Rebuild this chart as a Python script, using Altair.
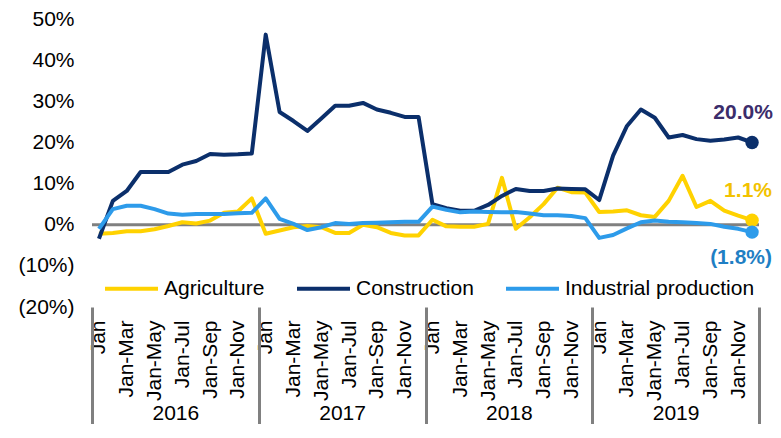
import altair as alt
import pandas as pd

years = [2016, 2017, 2018, 2019]
month_labels = ["Jan", "", "Jan-Mar", "", "Jan-May", "", "Jan-Jul", "", "Jan-Sep", "", "Jan-Nov", ""]
series_names = ["Agriculture", "Construction", "Industrial production"]

agriculture = [-2.2, -2.0, -1.6, -1.6, -1.1, -0.3, 0.6, 0.3, 1.0, 2.9, 3.2, 6.4,
               -2.2, -1.4, -0.6, -0.3, -0.6, -2.0, -2.0, 0.0, -0.6, -2.0, -2.6, -2.6,
               1.2, -0.4, -0.5, -0.5, 0.2, 11.4, -1.0, 1.8, 5.0, 9.0, 7.9, 7.8,
               3.1, 3.2, 3.5, 2.3, 1.9, 5.8, 11.9, 4.3, 5.8, 3.4, 2.2, 1.1]
construction = [-3.4, 5.8, 8.2, 12.8, 12.8, 12.8, 14.6, 15.5, 17.2, 17.0, 17.1, 17.3,
                46.2, 27.4, 25.2, 22.8, 25.8, 28.9, 28.9, 29.6, 28.0, 27.2, 26.2, 26.2,
                5.0, 4.0, 3.4, 3.4, 4.8, 7.0, 8.7, 8.2, 8.2, 8.8, 8.7, 8.6,
                6.0, 16.8, 24.0, 28.0, 26.0, 21.2, 21.8, 20.8, 20.4, 20.7, 21.2, 20.0]
industrial = [-1.0, 3.8, 4.6, 4.6, 3.8, 2.7, 2.4, 2.6, 2.6, 2.6, 2.8, 2.9,
              6.4, 1.4, 0.2, -1.3, -0.6, 0.4, 0.2, 0.4, 0.5, 0.6, 0.7, 0.7,
              4.4, 3.6, 3.0, 3.2, 3.1, 3.0, 3.1, 2.7, 2.3, 2.3, 2.1, 1.6,
              -3.2, -2.5, -0.9, 0.6, 1.0, 0.7, 0.6, 0.4, 0.2, -0.5, -1.0, -1.8]
y_ticks = [-20, -10, 0, 10, 20, 30, 40, 50]

line_colors = ["#FFD200", "#0B2F6B", "#2D9BEA"]
# (series, label colour, dy, dx)
label_styles = [("Construction", "#3B2D6B", -29, -9),
                ("Agriculture", "#F2C200", -29, -4),
                ("Industrial production", "#1F7FC4", 26, -11)]

FONT = "Liberation Sans"

rows = []
for name, vals in zip(series_names, [agriculture, construction, industrial]):
    for i, v in enumerate(vals):
        rows.append({"i": i, "series": name, "value": v})
df = pd.DataFrame(rows)
n = len(years) * 12

axis_labels = [m for _ in years for m in month_labels]
label_expr = "[" + ",".join("'%s'" % s for s in axis_labels) + "][datum.value]"

x_month = alt.X(
    "i:O",
    scale=alt.Scale(type="point", padding=0.5),
    axis=alt.Axis(orient="bottom", title=None, labelExpr=label_expr, labelAngle=270,
                  labelOverlap=False, ticks=False, domain=False, labelPadding=13,
                  labelFont=FONT, labelFontSize=21, labelColor="#000000"),
)
y_enc = alt.Y(
    "value:Q",
    scale=alt.Scale(domain=[-20, 50], nice=False, zero=False),
    axis=alt.Axis(values=y_ticks, title=None, grid=False, domain=False, ticks=False,
                  labelPadding=18, labelFont=FONT, labelFontSize=21, labelColor="#000000",
                  labelExpr="datum.value < 0 ? '(' + (-datum.value) + '%)' : datum.value + '%'"),
)
color_scale = alt.Scale(domain=series_names, range=line_colors)

zero = alt.Chart(pd.DataFrame({"value": [0]})).mark_rule(
    color="#808080", strokeWidth=3
).encode(y=alt.Y("value:Q"))

lines = alt.Chart(df).mark_line(strokeWidth=4, strokeJoin="round").encode(
    x=x_month, y=y_enc,
    color=alt.Color("series:N", scale=color_scale,
                    legend=alt.Legend(orient="none", legendX=11, legendY=241,
                                      direction="horizontal", title=None,
                                      symbolType="stroke", symbolSize=2809,
                                      symbolStrokeWidth=4, labelFont=FONT,
                                      labelFontSize=21, labelColor="#000000",
                                      labelOffset=4, columnPadding=24, labelLimit=400)),
)

end = alt.Chart(df).transform_filter(alt.datum.i == n - 1)
points = end.mark_point(filled=True, size=180, opacity=1).encode(
    x=x_month, y=y_enc,
    color=alt.Color("series:N", scale=color_scale, legend=None),
)

texts = []
for name, col, dy, dx in label_styles:
    texts.append(
        end.transform_filter(alt.datum.series == name)
        .transform_calculate(lbl="datum.value < 0 ? '(' + format(-datum.value, '.1f') + '%)' : format(datum.value, '.1f') + '%'")
        .mark_text(font=FONT, fontSize=21, fontWeight="bold", color=col, dy=dy, dx=dx,
                   align="center", baseline="middle")
        .encode(x=x_month, y=y_enc, text="lbl:N")
    )

year_layer = alt.Chart(pd.DataFrame({"year": [str(y) for y in years]})).mark_point(opacity=0).encode(
    x=alt.X("year:O", scale=alt.Scale(type="band", paddingInner=0, paddingOuter=0),
            axis=alt.Axis(orient="bottom", title=None, domain=False, ticks=True,
                          tickBand="extent", tickSize=117, tickWidth=3, tickColor="#808080",
                          labelAngle=0, labelPadding=-22, labelFont=FONT, labelFontSize=21,
                          labelColor="#000000"))
)

chart = alt.layer(
    alt.layer(zero, lines, points, *texts),
    year_layer,
).resolve_scale(x="independent").properties(
    width=667, height=288,
    padding={"left": 84, "top": 11, "right": 14, "bottom": 117},
    autosize=alt.AutoSizeParams(type="none"),
).configure_view(stroke=None)

chart.save("out.html", embed_options={"renderer": "svg", "actions": False})
